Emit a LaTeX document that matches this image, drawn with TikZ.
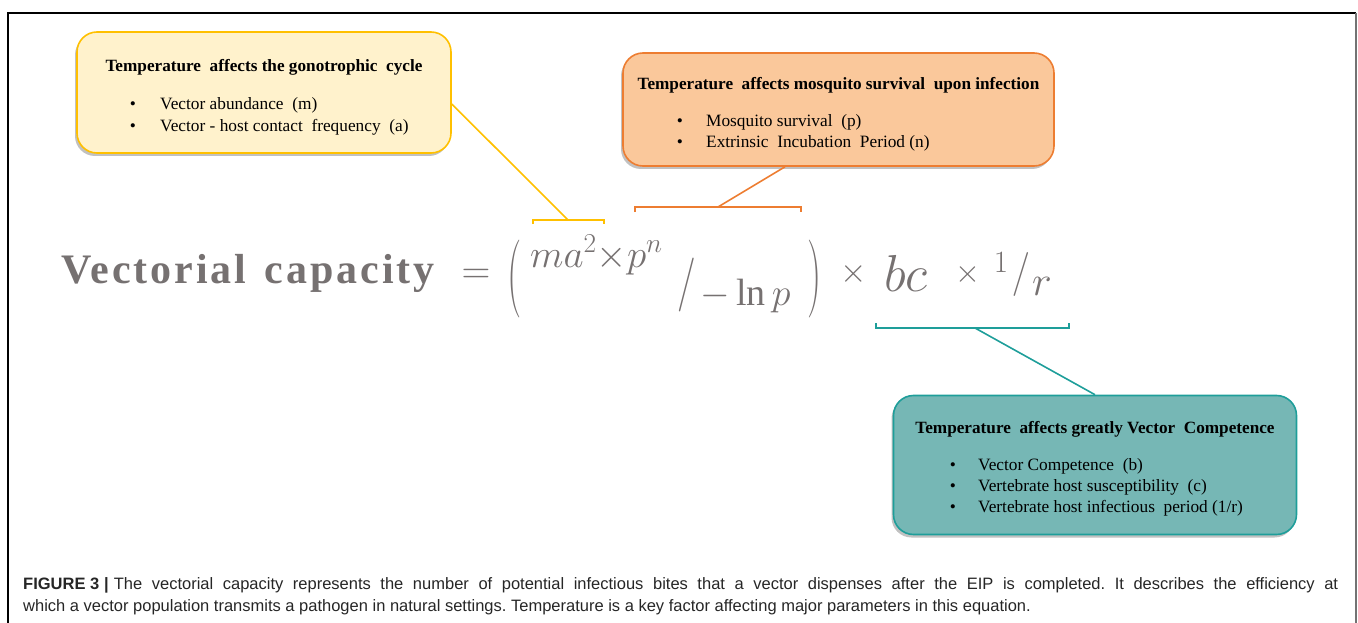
\RequirePackage{fix-cm}
\documentclass[tikz,border=0pt]{standalone}
\usepackage{fontspec}
\setmainfont{Liberation Serif}
\newfontfamily\capfont{Liberation Sans}
\newfontfamily\eqfont[LetterSpace=7]{Liberation Serif}
\usetikzlibrary{shadows}
\definecolor{ylwfill}{RGB}{255,242,204}
\definecolor{ylwline}{RGB}{255,192,0}
\definecolor{orgfill}{RGB}{250,200,155}
\definecolor{orgline}{RGB}{237,125,49}
\definecolor{tealfill}{RGB}{118,183,181}
\definecolor{tealline}{RGB}{30,158,154}
\definecolor{eqgray}{RGB}{118,113,113}
\tikzset{
  infobox/.style={rounded corners=20pt, line width=1.6pt, inner sep=0pt,
    drop shadow={shadow xshift=-2pt, shadow yshift=-3pt, opacity=0.35, fill=black!70}},
  boxtitle/.style={anchor=base, inner sep=0pt, font=\fontsize{17.2}{19}\selectfont\bfseries},
  bullettext/.style={anchor=base west, inner sep=0pt, font=\fontsize{17.3}{19}\selectfont},
  bulletmark/.style={anchor=base, inner sep=0pt, font=\fontsize{17.3}{19}\selectfont},
  link/.style={line width=1.6pt},
  eqpart/.style={inner sep=0pt, text=eqgray},
  captext/.style={anchor=base west, inner sep=0pt, font=\capfont\fontsize{16.5}{18}\selectfont\frenchspacing, text=black!85}
}
\begin{document}
\begin{tikzpicture}[x=1pt,y=-1pt]
\useasboundingbox (0,0) rectangle (1358,623);
% frame
\draw[line width=1.2pt, black] (8,623) -- (8,13) -- (1356,13);
\draw[line width=2pt, black!55] (1356,13) -- (1356,623);

% boxes
\node[infobox, draw=ylwline, fill=ylwfill, minimum width=374pt, minimum height=121pt] (ybox) at (264,92.5) {};
\node[infobox, draw=orgline, fill=orgfill, minimum width=431pt, minimum height=113pt] (obox) at (838.5,109.5) {};
\node[infobox, draw=tealline, fill=tealfill, minimum width=403pt, minimum height=139pt] (tbox) at (1095,465) {};

% yellow box text
\node[boxtitle] (ytitle) at (264,72) {Temperature\ \ affects the gonotrophic\ \ cycle};
\node[bulletmark] (yb1) at (133,110) {\textbullet};
\node[bullettext] (yt1) at (160,110) {Vector abundance\ \ (m)};
\node[bulletmark] (yb2) at (133,131.5) {\textbullet};
\node[bullettext] (yt2) at (160,131.5) {Vector - host contact\ \ frequency\ \ (a)};

% orange box text
\node[boxtitle] (otitle) at (838.5,90) {Temperature\ \ affects mosquito survival\ \ upon infection};
\node[bulletmark] (ob1) at (680,127) {\textbullet};
\node[bullettext] (ot1) at (706,127) {Mosquito survival\ \ (p)};
\node[bulletmark] (ob2) at (680,148) {\textbullet};
\node[bullettext] (ot2) at (706,148) {Extrinsic\ \ Incubation\ \ Period (n)};

% teal box text
\node[boxtitle] (ttitle) at (1095,433) {Temperature\ \ affects greatly Vector\ \ Competence};
\node[bulletmark] (tb1) at (953,470.5) {\textbullet};
\node[bullettext] (tt1) at (978,470.5) {Vector Competence\ \ (b)};
\node[bulletmark] (tb2) at (953,491.5) {\textbullet};
\node[bullettext] (tt2) at (978,491.5) {Vertebrate host susceptibility\ \ (c)};
\node[bulletmark] (tb3) at (953,512.5) {\textbullet};
\node[bullettext] (tt3) at (978,512.5) {Vertebrate host infectious\ \ period (1/r)};

% equation
\node[eqpart, anchor=base] (vc) at (248,283) {\eqfont\fontsize{42}{44}\selectfont\bfseries Vectorial\ \kern5pt capacity};
\node[eqpart, anchor=base] (eq) at (476,283) {\fontsize{40}{40}\selectfont$=$};
\node[eqpart] (lpar) at (515,279) {\scalebox{1}[1.95]{\fontsize{40}{40}\selectfont$($}};
\node[eqpart, anchor=base west] (num) at (530,267) {\fontsize{39}{40}\selectfont$ma^{2}{\times}p^{n}$};
\node[eqpart] (sl1) at (687,285) {\scalebox{0.75}[1]{\fontsize{54}{54}\selectfont$/$}};
\node[eqpart, anchor=base west] (den) at (700,305) {\fontsize{38}{40}\selectfont$-\ln p$};
\node[eqpart] (rpar) at (815,279) {\scalebox{1}[1.95]{\fontsize{40}{40}\selectfont$)$}};
\node[eqpart] (x1) at (853.5,274) {\fontsize{34}{36}\selectfont$\times$};
\node[eqpart, anchor=base west] (bc) at (884,291) {\fontsize{52}{54}\selectfont$bc$};
\node[eqpart] (x2) at (968,274) {\fontsize{32}{36}\selectfont$\times$};
\node[eqpart, anchor=base] (one) at (1001,272) {\fontsize{31}{32}\selectfont$1$};
\node[eqpart] (sl2) at (1021,275) {\scalebox{0.9}[1]{\fontsize{44}{44}\selectfont$/$}};
\node[eqpart, anchor=base] (r) at (1042,295) {\fontsize{42}{44}\selectfont$r$};

% brackets
\coordinate (ymid) at (568,220);
\coordinate (omid) at (718,207);
\coordinate (tmid) at (975,328);
\draw[link, ylwline] (533,224) -- (533,220) -- (604,220) -- (604,224);
\draw[link, orgline] (635,212) -- (635,207) -- (801,207) -- (801,212);
\draw[link, tealline] (876,323) -- (876,328) -- (1069,328) -- (1069,323);

% connectors
\draw[link, ylwline] ([yshift=-11.5pt]ybox.east) -- (ymid);
\draw[link, orgline] ([xshift=-53.5pt]obox.south) -- (omid);
\draw[link, tealline] (tmid) -- (tbox.north);

% caption
\node[captext] (cap1) at (23,589) {\makebox[1315pt][s]{\textbf{FIGURE\kern4.5pt 3\kern5pt|}\kern5pt The vectorial capacity represents the number of potential infectious bites that a vector dispenses after the EIP is completed. It describes the efficiency at}};
\node[captext] (cap2) at (23,611) {which a vector population transmits a pathogen in natural settings. Temperature is a key factor affecting major parameters in this equation.};
\end{tikzpicture}
\end{document}
